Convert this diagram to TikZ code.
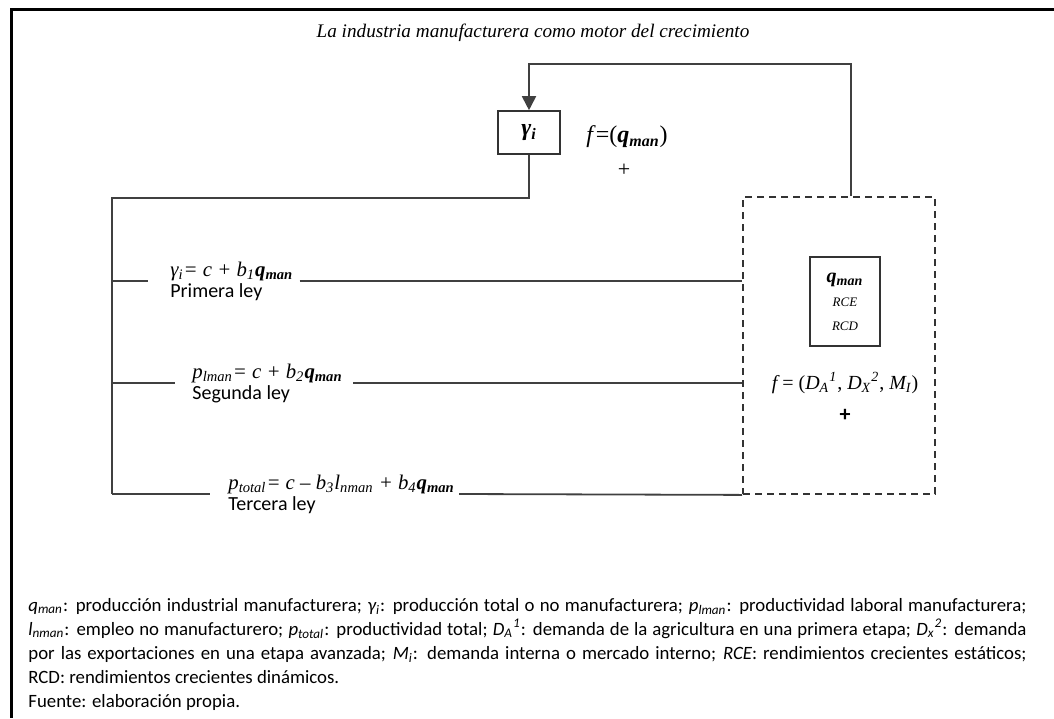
\documentclass[tikz,border=0pt]{standalone}
\usepackage{fontspec}
\setmainfont{Liberation Serif}
\newfontfamily\labelfont{Carlito}
\usetikzlibrary{arrows.meta,positioning}

\begin{document}
\begin{tikzpicture}[x=0.5pt,y=-0.5pt,
    ln/.style = {draw=black!75, line width=0.9pt},
    box/.style = {draw=black!80, line width=0.8pt, inner sep=0pt},
    eq/.style = {align=left, inner sep=0pt, anchor=west, font=\fontsize{10.4}{10}\selectfont},
    lab/.style = {font=\labelfont\fontsize{10}{10}\selectfont}]
    \useasboundingbox (0,0) rectangle (1054,718);
    \draw[line width=1.5pt] (1054,9) -- (11,9) -- (11,718);
    \node (title) at (533,33) {\fontsize{9.6}{12}\selectfont\itshape La industria manufacturera como motor del crecimiento};

    \node[box, minimum width=31pt, minimum height=21.5pt] (gbox) at (529,132.5) {\fontsize{12}{14}\selectfont\bfseries\itshape γ\textsubscript{i}};
    \node (fq) at (627,137) {\fontsize{12}{14}\selectfont\itshape f\/\upshape =(\bfseries\itshape q\textsubscript{man}\mdseries\upshape)};
    \node (plus1) at (624,170) {\fontsize{11}{12}\selectfont +};

    \node[box, dashed, dash pattern=on 3.5pt off 2.5pt, line width=0.9pt, minimum width=96pt, minimum height=148.5pt] (dbox) at (839,345.5) {};
    \node[box, minimum width=35pt, minimum height=44.5pt, align=center, font=\fontsize{6.5}{12}\selectfont\itshape] (qbox) at (845,301.5)
        {{\fontsize{10}{12}\selectfont\bfseries q\textsubscript{man}}\\RCE\\RCD};
    \node (fd) at (845,383) {\fontsize{10}{13}\selectfont\itshape f\upshape\ = (\itshape D\textsubscript{A}\textsuperscript{1}\upshape, \itshape D\textsubscript{X}\textsuperscript{2}\upshape, \itshape M\textsubscript{I}\upshape)};
    \node (plus2) at (845,415) {\labelfont\fontsize{11}{12}\selectfont\bfseries +};

    \node[eq] (eq1) at (170,281) {\itshape γ\textsubscript{i}= c + b\textsubscript{1}\bfseries q\textsubscript{man}\\[0.5pt]{\labelfont\upshape\mdseries\fontsize{10}{10}\selectfont Primera ley}};
    \node[eq] (eq2) at (192,383) {\itshape p\textsubscript{lman}= c + b\textsubscript{2}\bfseries q\textsubscript{man}\\[0.5pt]{\labelfont\upshape\mdseries\fontsize{10}{10}\selectfont Segunda ley}};
    \node[eq] (eq3) at (228,494) {\itshape p\textsubscript{total}= c – b\textsubscript{3}l\textsubscript{nman} + b\textsubscript{4}\bfseries q\textsubscript{man}\\[0.5pt]{\labelfont\upshape\mdseries\fontsize{10}{10}\selectfont Tercera ley}};

    \coordinate (j0) at (112,198);
    \coordinate (j1) at (112,281);
    \coordinate (j2) at (112,383);
    \coordinate (j3) at (112,494);

    \draw[ln, -{Triangle[length=7pt,width=7pt]}] ([xshift=6pt]dbox.north) -- ++(0,-132) -| (gbox.north);
    \draw[ln] (gbox.south) |- (j0) -- (j3);
    \draw[ln] (j1) -- ([xshift=-11pt]eq1.west);
    \draw[ln] ([xshift=3pt]eq1.east) -- (eq1.east -| dbox.west);
    \draw[ln] (j2) -- ([xshift=-8.5pt]eq2.west);
    \draw[ln] ([xshift=5pt]eq2.east) -- (eq2.east -| dbox.west);
    \draw[ln] (j3) -- ([xshift=-9pt]eq3.west);
    \draw[ln] ([xshift=2pt]eq3.east) -- (dbox.south west);

    \node[anchor=north west, inner sep=0pt, text width=499pt, align=justify, font=\labelfont\fontsize{9.4}{12}\selectfont] (nota) at (28,598)
        {\itshape q\textsubscript{man}\upshape: producción industrial manufacturera; \itshape γ\textsubscript{i}\upshape: producción total o no manufacturera; \itshape p\textsubscript{lman}\upshape: productividad laboral manufacturera;\linebreak
        \itshape l\textsubscript{nman}\upshape: empleo no manufacturero; \itshape p\textsubscript{total}\upshape: productividad total; \itshape D\textsubscript{A}\textsuperscript{1}\upshape: demanda de la agricultura en una primera etapa; \itshape D\textsubscript{x}\textsuperscript{2}\upshape: demanda\linebreak
        por las exportaciones en una etapa avanzada; \itshape M\textsubscript{i}\upshape: demanda interna o mercado interno; \itshape RCE\upshape: rendimientos crecientes estáticos;\linebreak
        RCD: rendimientos crecientes dinámicos.};
    \node[anchor=base west, inner sep=0pt, font=\labelfont\fontsize{9.4}{12}\selectfont] (fuente) at (28,707) {Fuente: elaboración propia.};
\end{tikzpicture}
\end{document}
